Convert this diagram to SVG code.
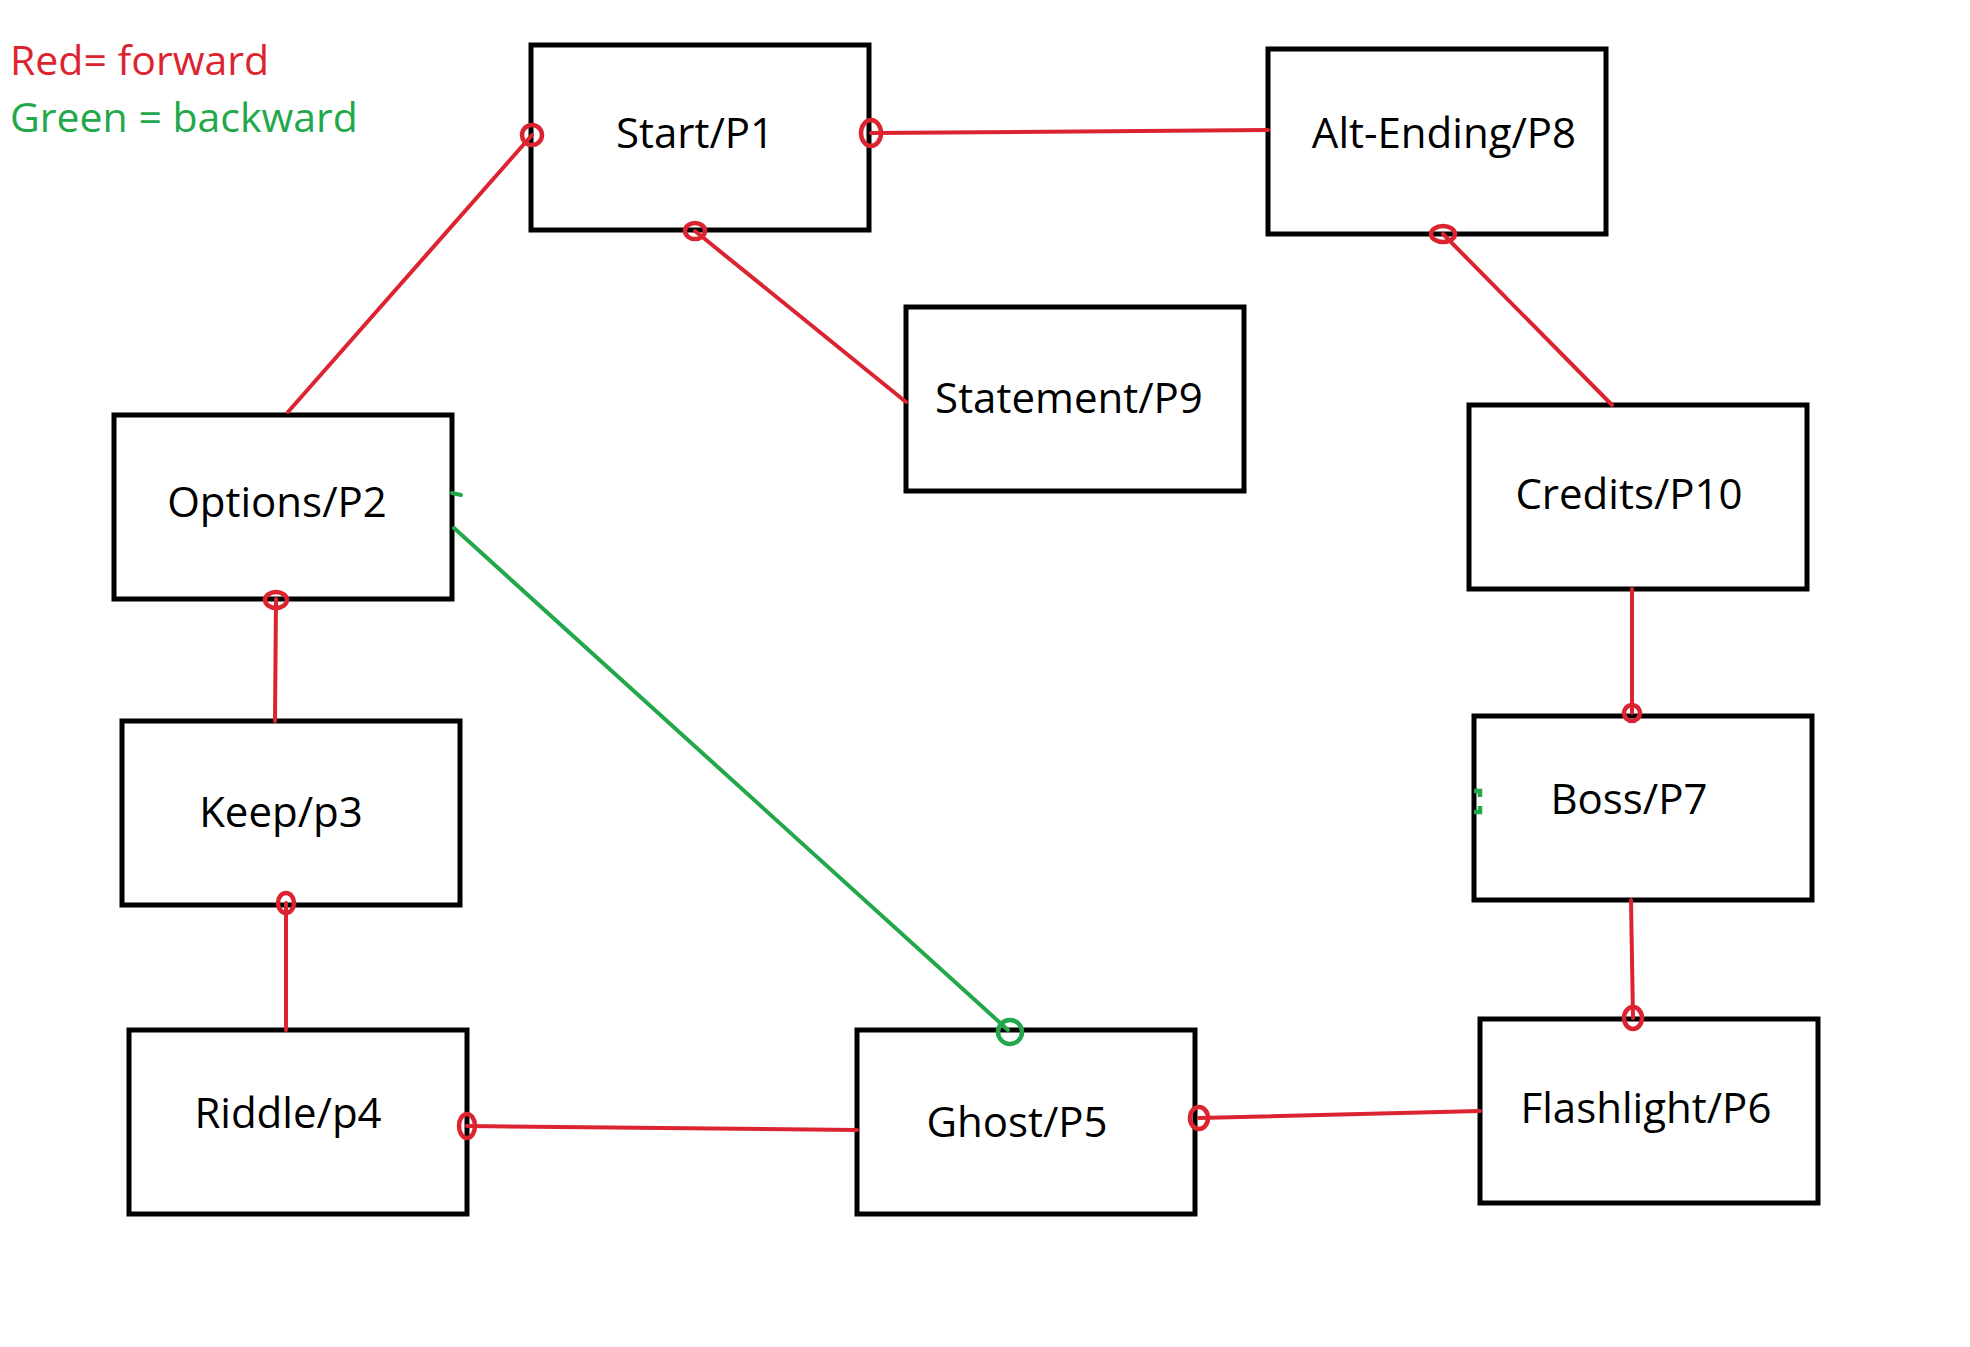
<svg xmlns="http://www.w3.org/2000/svg" width="1970" height="1347" viewBox="0 0 1970 1347">
<style>
.box{fill:#ffffff;stroke:#000000;stroke-width:5}
.lbl{font-family:"Open Sans","Noto Sans","DejaVu Sans",sans-serif;font-size:42px;fill:#000000;text-anchor:middle}
.leg{font-family:"Open Sans","Noto Sans","DejaVu Sans",sans-serif;font-size:41px}
.red{stroke:#dc2430;stroke-width:4;fill:none;stroke-linecap:round}
.grn{stroke:#22a84b;stroke-width:4;fill:none;stroke-linecap:round}
.rc{stroke:#dc2430;stroke-width:4.5;fill:none}
.gc{stroke:#22a84b;stroke-width:4.5;fill:none}
</style>
<rect width="1970" height="1347" fill="#ffffff"/>
<g id="legend">
<text class="leg" x="10" y="75" fill="#dc2430">Red= forward</text>
<text class="leg" x="10" y="132" fill="#22a84b">Green = backward</text>
</g>
<g id="node-start"><rect class="box" x="531" y="45" width="338" height="185"/><text class="lbl" x="695" y="148">Start/P1</text></g>
<g id="node-altending"><rect class="box" x="1268" y="49" width="338" height="185"/><text class="lbl" x="1444" y="148">Alt-Ending/P8</text></g>
<g id="node-statement"><rect class="box" x="906" y="307" width="338" height="184"/><text class="lbl" x="1069" y="413">Statement/P9</text></g>
<g id="node-options"><rect class="box" x="114" y="415" width="338" height="184"/><text class="lbl" x="277" y="517">Options/P2</text></g>
<g id="node-credits"><rect class="box" x="1469" y="405" width="338" height="184"/><text class="lbl" x="1629" y="509">Credits/P10</text></g>
<g id="node-keep"><rect class="box" x="122" y="721" width="338" height="184"/><text class="lbl" x="281" y="827">Keep/p3</text></g>
<g id="node-boss"><rect class="box" x="1474" y="716" width="338" height="184"/><text class="lbl" x="1629" y="814">Boss/P7</text></g>
<g id="node-riddle"><rect class="box" x="129" y="1030" width="338" height="184"/><text class="lbl" x="288" y="1128">Riddle/p4</text></g>
<g id="node-ghost"><rect class="box" x="857" y="1030" width="338" height="184"/><text class="lbl" x="1017" y="1137">Ghost/P5</text></g>
<g id="node-flashlight"><rect class="box" x="1480" y="1019" width="338" height="184"/><text class="lbl" x="1646" y="1123">Flashlight/P6</text></g>
<g id="connectors">
<line class="red" x1="288" y1="412" x2="532" y2="135"/>
<circle class="rc" cx="532" cy="135" r="10"/>
<line class="red" x1="871" y1="133" x2="1268" y2="130"/>
<ellipse class="rc" cx="871" cy="133" rx="10" ry="13"/>
<line class="red" x1="695" y1="231" x2="906" y2="402"/>
<ellipse class="rc" cx="695" cy="231" rx="10" ry="8"/>
<line class="red" x1="1443" y1="234" x2="1612" y2="405"/>
<ellipse class="rc" cx="1443" cy="234" rx="12" ry="8"/>
<line class="red" x1="1632" y1="589" x2="1632" y2="713"/>
<circle class="rc" cx="1632" cy="713" r="8"/>
<line class="red" x1="1631" y1="900" x2="1633" y2="1018"/>
<ellipse class="rc" cx="1633" cy="1018" rx="9" ry="11"/>
<line class="red" x1="1199" y1="1118" x2="1480" y2="1111"/>
<ellipse class="rc" cx="1199" cy="1118" rx="9" ry="11"/>
<line class="red" x1="467" y1="1126" x2="857" y2="1130"/>
<ellipse class="rc" cx="467" cy="1126" rx="8" ry="12"/>
<line class="red" x1="286" y1="903" x2="286" y2="1030"/>
<ellipse class="rc" cx="286" cy="903" rx="8" ry="10"/>
<line class="red" x1="276" y1="599" x2="275" y2="721"/>
<ellipse class="rc" cx="276" cy="600" rx="11" ry="8"/>
<line class="grn" x1="454" y1="528" x2="1008" y2="1030"/>
<circle class="gc" cx="1010" cy="1032" r="12"/>
<line class="grn" x1="452" y1="493" x2="461" y2="495"/>
<path class="gc" d="M1474 791 L1480 791 L1480 797 M1474 812 L1480 812 L1480 806"/>
</g>
</svg>
